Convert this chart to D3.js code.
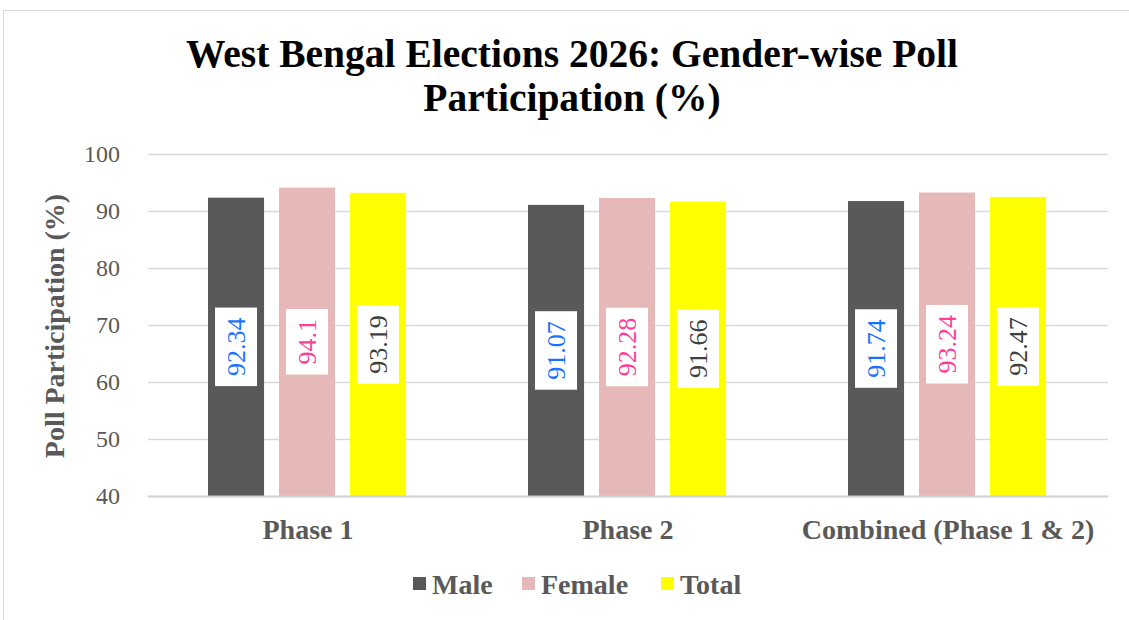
<!DOCTYPE html>
<html>
<head>
<meta charset="utf-8">
<script src="https://cdn.jsdelivr.net/npm/d3@7"></script>
<style>
  body { margin: 0; background: #fff; }
  svg { display: block; }
  text { font-family: "Palatino Linotype", "Book Antiqua", Palatino, "Liberation Serif", serif; }
</style>
</head>
<body>
<div id="chart"></div>
<script>
// data
var phases = ["Phase 1", "Phase 2", "Combined (Phase 1 & 2)"];
var seriesNames = ["Male", "Female", "Total"];
var male = [92.34, 91.07, 91.74];
var female = [94.1, 92.28, 93.24];
var total = [93.19, 91.66, 92.47];
var yTicks = [40, 50, 60, 70, 80, 90, 100];

var barColors = {Male: "#595959", Female: "#e6b9b8", Total: "#ffff00"};
var labelColors = {Male: "#1a73ff", Female: "#ff3d97", Total: "#404040"};

var W = 1129, H = 620;
var svg = d3.select("#chart").append("svg").attr("width", W).attr("height", H);

// outer chart border
svg.append("rect")
  .attr("x", 3.5).attr("y", 10.5)
  .attr("width", W).attr("height", H)
  .attr("fill", "none").attr("stroke", "#d9d9d9");

var plotL = 148, plotR = 1108, plotT = 154, plotB = 496;

var x0 = d3.scaleBand().domain(phases).range([plotL, plotR]).paddingInner(0).paddingOuter(0);
var x1 = d3.scaleBand().domain(seriesNames).range([60, 258]).paddingInner(0.21).paddingOuter(0);
var y = d3.scaleLinear().domain([40, 100]).range([plotB, plotT]);

// title
var title = svg.append("text")
  .attr("text-anchor", "middle")
  .attr("font-weight", "bold")
  .attr("font-size", 39.5)
  .attr("fill", "#000");
title.append("tspan").attr("x", 572).attr("y", 67).text("West Bengal Elections 2026: Gender-wise Poll");
title.append("tspan").attr("x", 572).attr("y", 111).text("Participation (%)");

// gridlines
svg.append("g").selectAll("line")
  .data(yTicks.filter(function(d){ return d > 40; }))
  .join("line")
  .attr("x1", plotL).attr("x2", plotR)
  .attr("y1", function(d){ return y(d) + 0.5; })
  .attr("y2", function(d){ return y(d) + 0.5; })
  .attr("stroke", "#d9d9d9").attr("stroke-width", 1.3);

// y tick labels
svg.append("g").selectAll("text")
  .data(yTicks)
  .join("text")
  .attr("x", 120)
  .attr("y", function(d){ return y(d); })
  .attr("dy", "0.35em")
  .attr("text-anchor", "end")
  .attr("font-size", 24)
  .attr("fill", "#595959")
  .text(function(d){ return d; });

// y axis title
svg.append("text")
  .attr("transform", "translate(64,326) rotate(-90)")
  .attr("text-anchor", "middle")
  .attr("font-weight", "bold")
  .attr("font-size", 28)
  .attr("fill", "#595959")
  .text("Poll Participation (%)");

// bars
var rows = [];
phases.forEach(function(p, i){
  rows.push({phase: p, name: "Male", value: male[i]});
  rows.push({phase: p, name: "Female", value: female[i]});
  rows.push({phase: p, name: "Total", value: total[i]});
});

var bars = svg.append("g");
bars.selectAll("rect")
  .data(rows)
  .join("rect")
  .attr("x", function(d){ return x0(d.phase) + x1(d.name); })
  .attr("y", function(d){ return y(d.value); })
  .attr("width", x1.bandwidth())
  .attr("height", function(d){ return y(40) - y(d.value); })
  .attr("fill", function(d){ return barColors[d.name]; });

// bottom axis line
svg.append("line")
  .attr("x1", plotL).attr("x2", plotR)
  .attr("y1", plotB + 0.5).attr("y2", plotB + 0.5)
  .attr("stroke", "#d0d0d0").attr("stroke-width", 2);

// data labels (rotated, white box)
var labels = svg.append("g").selectAll("g")
  .data(rows)
  .join("g")
  .attr("transform", function(d){
    var cx = x0(d.phase) + x1(d.name) + x1.bandwidth() / 2;
    var cy = (y(d.value) + y(40)) / 2;
    return "translate(" + cx + "," + cy + ") rotate(-90)";
  });
labels.append("rect").attr("fill", "#fff");
labels.append("text")
  .attr("text-anchor", "middle")
  .attr("dy", "0.35em")
  .attr("font-size", 26)
  .attr("font-family", "'Liberation Serif', serif")
  .attr("fill", function(d){ return labelColors[d.name]; })
  .text(function(d){ return d.value; });
labels.each(function(){
  var g = d3.select(this);
  var w = g.select("text").node().getComputedTextLength();
  g.select("rect")
    .attr("x", -w / 2 - 10).attr("y", -21)
    .attr("width", w + 20).attr("height", 42);
});

// x category labels
svg.append("g").selectAll("text")
  .data(phases)
  .join("text")
  .attr("x", function(d){ return x0(d) + x0.bandwidth() / 2; })
  .attr("y", 539)
  .attr("text-anchor", "middle")
  .attr("font-weight", "bold")
  .attr("font-size", 28)
  .attr("fill", "#595959")
  .text(function(d){ return d; });

// legend
var legendX = [413, 522, 661];
var legend = svg.append("g").selectAll("g")
  .data(seriesNames)
  .join("g")
  .attr("transform", function(d, i){ return "translate(" + legendX[i] + ",577)"; });
legend.append("rect")
  .attr("width", 13).attr("height", 13)
  .attr("fill", function(d){ return barColors[d]; });
legend.append("text")
  .attr("x", 19).attr("y", 17)
  .attr("font-weight", "bold")
  .attr("font-size", 28)
  .attr("fill", "#595959")
  .text(function(d){ return d; });
</script>
</body>
</html>
